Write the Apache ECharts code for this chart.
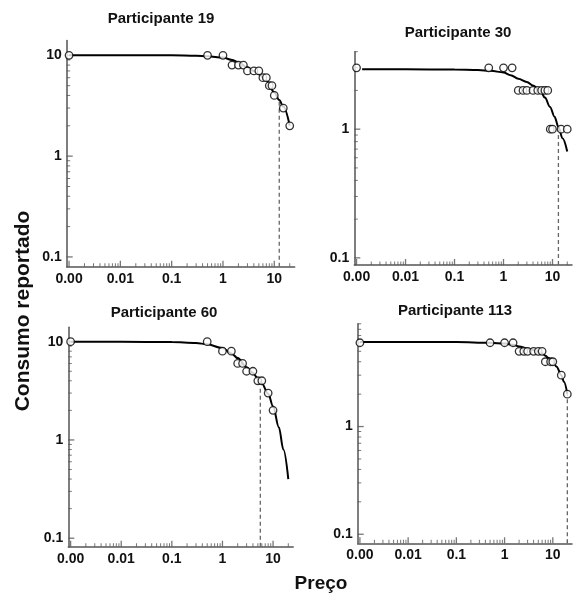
<!DOCTYPE html>
<html><head><meta charset="utf-8">
<script src="https://cdn.jsdelivr.net/npm/echarts@6/dist/echarts.min.js"></script>
<style>html,body{margin:0;padding:0;background:#fff}#c{width:575px;height:597px}</style>
</head><body><div id="c"></div>
<script>
// Price 0 is drawn at the axis position labelled "0.00" (0.001) on the log axis
const ZERO_POS = 0.001;

// ---- Participante 19 ----
const price19 = [0, 0.5, 1, 1.5, 2, 2.5, 3, 4, 5, 6, 7, 8, 9, 10, 15, 20];
const cons19  = [10, 10, 10, 8, 8, 8, 7, 7, 7, 6, 6, 5, 5, 4, 3, 2];
const curveX19 = [0.001, 0.01, 0.1, 0.3, 0.5, 1, 1.5, 2, 3, 4, 5, 7, 10, 12.5, 15, 20];
const curveY19 = [10, 10, 10, 9.9, 9.8, 9.5, 9.0, 8.5, 7.6, 7.0, 6.5, 5.6, 4.3, 3.6, 3.1, 2.0];
const pmax19 = 12.5, pmaxQ19 = 3.6;

// ---- Participante 30 ----
const price30 = [0, 0.5, 1, 1.5, 2, 2.5, 3, 4, 5, 6, 7, 8, 9, 10, 15, 20];
const cons30  = [3, 3, 3, 3, 2, 2, 2, 2, 2, 2, 2, 2, 1, 1, 1, 1];
const curveX30 = [0.0013, 0.01, 0.1, 0.3, 0.55, 1, 1.4, 2, 3, 4, 5.6, 7, 8.9, 11, 13.2, 16, 20];
const curveY30 = [2.92, 2.92, 2.91, 2.88, 2.84, 2.76, 2.63, 2.47, 2.33, 2.18, 2.0, 1.76, 1.49, 1.25, 1.04, 0.85, 0.67];
const pmax30 = 13.2, pmaxQ30 = 1.04;

// ---- Participante 60 ----
const price60 = [0, 0.5, 1, 1.5, 2, 2.5, 3, 4, 5, 6, 8, 10];
const cons60  = [10, 10, 8, 8, 6, 6, 5, 5, 4, 4, 3, 2];
const curveX60 = [0.001, 0.01, 0.1, 0.3, 0.5, 1, 1.5, 2, 3, 4, 5, 6, 8, 10, 13, 16, 20];
const curveY60 = [10, 10, 9.9, 9.7, 9.4, 8.6, 7.6, 6.8, 5.5, 4.8, 4.2, 3.75, 2.95, 2.2, 1.35, 0.8, 0.4];
const pmax60 = 5.6, pmaxQ60 = 3.5;

// ---- Participante 113 ----
const price113 = [0, 0.5, 1, 1.5, 2, 2.5, 3, 4, 5, 6, 7, 9, 10, 15, 20];
const cons113  = [6, 6, 6, 6, 5, 5, 5, 5, 5, 5, 4, 4, 4, 3, 2];
const curveX113 = [0.001, 0.01, 0.1, 0.5, 1, 1.5, 2, 3, 4, 5, 6, 7, 8, 10, 12, 15, 17, 20];
const curveY113 = [6.1, 6.1, 6.1, 6.0, 5.9, 5.75, 5.55, 5.3, 5.15, 5.0, 4.8, 4.55, 4.35, 4.0, 3.6, 3.0, 2.6, 2.0];
const pmax113 = 20, pmaxQ113 = 2.0;

// ---- tick labels ----
const xTickValues = [0.001, 0.01, 0.1, 1, 10];
const xTickLabels = ['0.00', '0.01', '0.1', '1', '10'];
const xMinorTicks = [0.002,0.003,0.004,0.005,0.006,0.007,0.008,0.009,
  0.02,0.03,0.04,0.05,0.06,0.07,0.08,0.09,
  0.2,0.3,0.4,0.5,0.6,0.7,0.8,0.9,
  2,3,4,5,6,7,8,9,20];
const yTickValues = [0.1, 1, 10];
const yTickLabels = ['0.1', '1', '10'];
const yMinorTicks = [0.2,0.3,0.4,0.5,0.6,0.7,0.8,0.9,2,3,4,5,6,7,8,9];

const titles = ['Participante 19', 'Participante 30', 'Participante 60', 'Participante 113'];

const FONT = '"Liberation Sans", Arial, Helvetica, sans-serif';
const AXIS_COLOR = '#555';

const panels = [
  {title: titles[0], price: price19, cons: cons19, cx: curveX19, cy: curveY19, pmax: pmax19, pmaxQ: pmaxQ19,
   grid: {left: 66.7, top: 40.6, width: 228, height: 226.1}, xMin: 0.0009, xMax: 25, yMin: 0.08, yMax: 14, tpos: [161, 19]},
  {title: titles[1], price: price30, cons: cons30, cx: curveX30, cy: curveY30, pmax: pmax30, pmaxQ: pmaxQ30,
   grid: {left: 354.3, top: 51.7, width: 218.6, height: 213.3}, xMin: 0.0009, xMax: 25, yMin: 0.088, yMax: 4, tpos: [458, 33]},
  {title: titles[2], price: price60, cons: cons60, cx: curveX60, cy: curveY60, pmax: pmax60, pmaxQ: pmaxQ60,
   grid: {left: 68.3, top: 327.3, width: 224.9, height: 219.4}, xMin: 0.0009, xMax: 25, yMin: 0.082, yMax: 14, tpos: [164, 313]},
  {title: titles[3], price: price113, cons: cons113, cx: curveX113, cy: curveY113, pmax: pmax113, pmaxQ: pmaxQ113,
   grid: {left: 357.7, top: 323.8, width: 221.3, height: 219.5}, xMin: 0.0009, xMax: 25, yMin: 0.0824, yMax: 9, tpos: [455, 311]}
];

function labelFor(values, labels) {
  return function (v) {
    const i = values.findIndex(t => Math.abs(Math.log10(t) - Math.log10(v)) < 1e-6);
    return i >= 0 ? labels[i] : '';
  };
}

const grids = [], xAxes = [], yAxes = [], series = [], graphics = [];

panels.forEach((p, i) => {
  grids.push(Object.assign({containLabel: false}, p.grid));
  xAxes.push({
    type: 'log', gridIndex: i, min: p.xMin, max: p.xMax, logBase: 10,
    axisLine: {show: true, lineStyle: {color: AXIS_COLOR, width: 1.5}},
    axisTick: {show: false}, splitLine: {show: false}, minorTick: {show: false},
    axisLabel: {show: true, formatter: labelFor(xTickValues, xTickLabels), fontFamily: FONT,
      fontWeight: 'bold', fontSize: 14, color: '#111', margin: 5, showMinLabel: true, showMaxLabel: true}
  });
  yAxes.push({
    type: 'log', gridIndex: i, min: p.yMin, max: p.yMax, logBase: 10,
    axisLine: {show: true, lineStyle: {color: AXIS_COLOR, width: 1.5}},
    axisTick: {show: false}, splitLine: {show: false}, minorTick: {show: false},
    axisLabel: {show: true, formatter: labelFor(yTickValues, yTickLabels), fontFamily: FONT,
      fontWeight: 'bold', fontSize: 14, color: '#111', margin: 5, showMinLabel: true, showMaxLabel: true}
  });

  const inX = v => v >= p.xMin && v <= p.xMax;
  const inY = v => v >= p.yMin && v <= p.yMax;
  const tickBase = {type: 'scatter', xAxisIndex: i, yAxisIndex: i, symbol: 'rect', silent: true,
    clip: false, itemStyle: {color: AXIS_COLOR}, z: 1, animation: false};

  // x minor / major ticks (pointing up, inside)
  series.push(Object.assign({}, tickBase, {symbolSize: [1, 3.5], symbolOffset: [0, -1.75],
    data: xMinorTicks.filter(inX).map(v => [v, p.yMin])}));
  series.push(Object.assign({}, tickBase, {symbolSize: [1.3, 6], symbolOffset: [0, -3],
    data: xTickValues.filter(inX).map(v => [v, p.yMin])}));
  // y minor / major ticks (pointing right, inside)
  series.push(Object.assign({}, tickBase, {symbolSize: [3.5, 1], symbolOffset: [1.75, 0],
    data: yMinorTicks.filter(inY).map(v => [p.xMin, v])}));
  series.push(Object.assign({}, tickBase, {symbolSize: [6, 1.3], symbolOffset: [3, 0],
    data: yTickValues.filter(inY).map(v => [p.xMin, v])}));

  // dashed Pmax line
  series.push({type: 'line', xAxisIndex: i, yAxisIndex: i, symbol: 'none', silent: true, animation: false,
    lineStyle: {color: '#666', width: 1.3, type: [4, 3]}, z: 2,
    data: [[p.pmax, p.yMin], [p.pmax, p.pmaxQ]]});
  // fitted curve
  series.push({type: 'line', xAxisIndex: i, yAxisIndex: i, symbol: 'none', silent: true, animation: false,
    smooth: 0.35, smoothMonotone: 'x', clip: false,
    lineStyle: {color: '#000', width: 2}, z: 3,
    data: p.cx.map((x, k) => [x, p.cy[k]])});
  // observed points
  series.push({type: 'scatter', xAxisIndex: i, yAxisIndex: i, symbol: 'circle', symbolSize: 7.5,
    silent: true, animation: false, clip: false,
    itemStyle: {color: '#fff', borderColor: '#000', borderWidth: 1.3}, z: 4,
    data: p.price.map((x, k) => [x === 0 ? ZERO_POS : x, p.cons[k]])});

  graphics.push({type: 'text', x: p.tpos[0], y: p.tpos[1],
    style: {text: p.title, font: 'bold 15px ' + FONT, fill: '#111', textAlign: 'center', textVerticalAlign: 'middle'}});
});

graphics.push({type: 'text', x: 23, y: 311, rotation: Math.PI / 2,
  style: {text: 'Consumo reportado', font: 'bold 21px ' + FONT, fill: '#111', textAlign: 'center', textVerticalAlign: 'middle'}});
graphics.push({type: 'text', x: 321, y: 584,
  style: {text: 'Preço', font: 'bold 19px ' + FONT, fill: '#111', textAlign: 'center', textVerticalAlign: 'middle'}});

const chart = echarts.init(document.getElementById('c'), null, {renderer: 'canvas'});
chart.setOption({
  backgroundColor: '#fff',
  animation: false,
  grid: grids, xAxis: xAxes, yAxis: yAxes, series: series,
  graphic: graphics
});
</script>
</body></html>
